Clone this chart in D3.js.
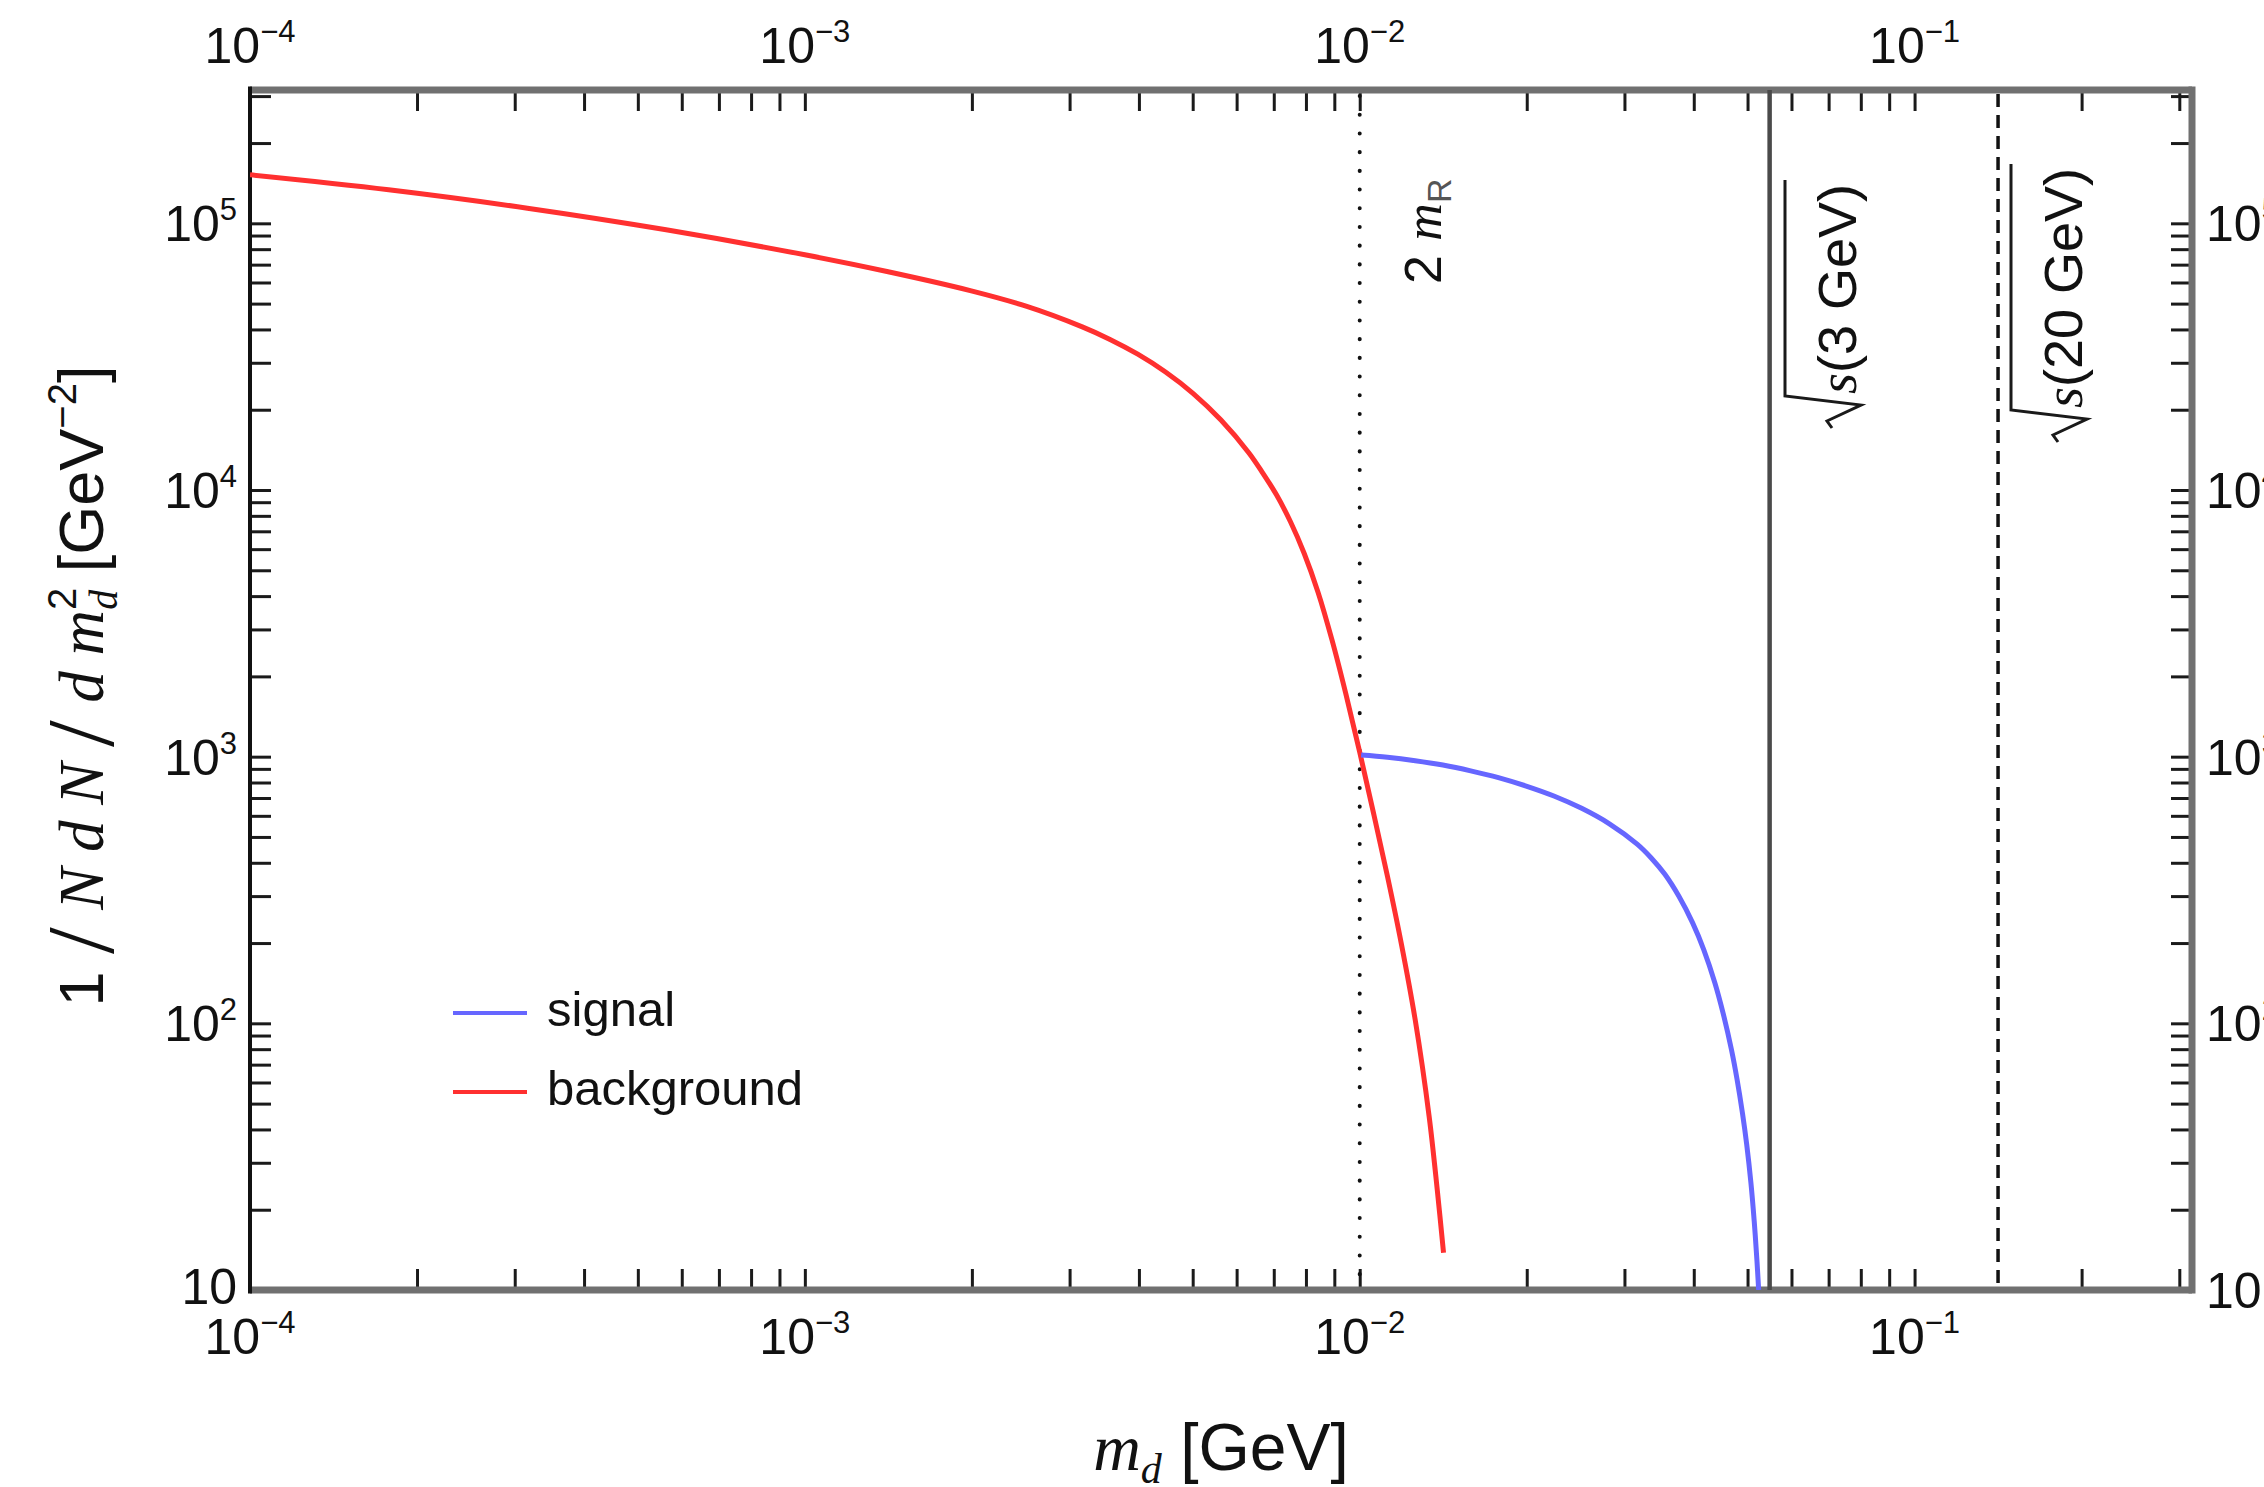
<!DOCTYPE html>
<html>
<head>
<meta charset="utf-8">
<script src="https://cdn.jsdelivr.net/npm/d3@7"></script>
<style>
  html, body { margin: 0; padding: 0; background: #ffffff; }
  svg { display: block; }
  text { font-family: "Liberation Sans", Arial, Helvetica, sans-serif; fill: #111; }
  .it { font-family: "Liberation Serif", "Times New Roman", serif; font-style: italic; }
  .sl { font-family: "Liberation Serif", "Times New Roman", serif; }
</style>
</head>
<body>
<svg id="chart" width="2264" height="1487"></svg>
<script>
// Background spectrum: 1/N dN/dm_d^2 against dark-photon mass m_d [GeV]
const bgMass = [1e-4, 1.778e-4, 3.162e-4, 5.623e-4, 1e-3, 1.413e-3, 1.995e-3, 2.512e-3, 3.162e-3,
                3.548e-3, 3.981e-3, 4.467e-3, 5.012e-3, 5.623e-3, 6.310e-3, 6.683e-3, 7.079e-3,
                7.499e-3, 7.943e-3, 8.414e-3, 8.913e-3, 9.441e-3, 0.01, 0.01059, 0.01122,
                0.01189, 0.01259, 0.01334, 0.01380, 0.01416];
const bgDensity = [152000, 133600, 114000, 94600, 76200, 65800, 55800, 48800, 40900,
                   36700, 32300, 27700, 23000, 18300, 13800, 11600, 9590,
                   7620, 5780, 4130, 2740, 1720, 1040, 614, 356,
                   198, 103, 44.7, 23.6, 13.8];

// Signal spectrum, opening at the 2 m_R threshold
const sigMass = [0.010058, 0.011220, 0.012589, 0.014125, 0.015849, 0.017783, 0.019953, 0.022387,
                 0.025119, 0.028184, 0.031623, 0.033497, 0.035481, 0.037584, 0.039811, 0.041687,
                 0.043652, 0.045186, 0.046774, 0.047863, 0.048978, 0.049831, 0.050699, 0.051404,
                 0.052000, 0.052240, 0.052360];
const sigDensity = [1014, 995, 966, 930, 885, 835, 776, 712,
                    640, 560, 470, 418, 362, 300, 238, 189,
                    142, 109, 79.6, 61.8, 45.8, 35.1, 25.3, 18.1,
                    12.8, 10.9, 10];

// Reference masses drawn as vertical lines
const thresholdMass = 0.01;     // 2 m_R
const edgeMass3GeV  = 0.0548;   // sqrt(s) = 3 GeV
const edgeMass20GeV = 0.1414;   // sqrt(s) = 20 GeV

// Decade exponents used for the tick labels
const xDecades = [-4, -3, -2, -1];
const yDecades = [1, 2, 3, 4, 5];

const legendLabels = ["signal", "background"];
const seriesColors = { signal: "#6666ff", background: "#ff3030" };

// ---------------------------------------------------------------
const svg = d3.select("#chart");
const plotLeft = 250, plotRight = 2192, plotTop = 90, plotBottom = 1290;

const x = d3.scaleLog().domain([1e-4, Math.pow(10, -0.5)]).range([plotLeft, plotRight]);
const y = d3.scaleLog().domain([10, Math.pow(10, 5.5)]).range([plotBottom, plotTop]);

// all 1..9 x 10^k tick positions inside a log domain
function logTicks(scale) {
  const [a, b] = scale.domain();
  const out = [];
  for (let e = Math.floor(Math.log10(a)); e <= Math.ceil(Math.log10(b)); e++) {
    for (let k = 1; k <= 9; k++) {
      const v = k * Math.pow(10, e);
      if (v >= a * 0.9999 && v <= b * 1.0001) out.push(v);
    }
  }
  return out;
}
const xTickVals = logTicks(x);
const yTickVals = logTicks(y);
const tickLen = 21;

function styleAxis(g) {
  g.select(".domain").remove();
  g.selectAll(".tick line").attr("stroke", "#1a1a1a").attr("stroke-width", 3);
}

svg.append("g").attr("transform", `translate(0,${plotBottom})`)
  .call(d3.axisBottom(x).tickValues(xTickVals).tickSize(-tickLen).tickFormat(""))
  .call(styleAxis);
svg.append("g").attr("transform", `translate(0,${plotTop})`)
  .call(d3.axisTop(x).tickValues(xTickVals).tickSize(-tickLen).tickFormat(""))
  .call(styleAxis);
svg.append("g").attr("transform", `translate(${plotLeft},0)`)
  .call(d3.axisLeft(y).tickValues(yTickVals).tickSize(-tickLen).tickFormat(""))
  .call(styleAxis);
svg.append("g").attr("transform", `translate(${plotRight},0)`)
  .call(d3.axisRight(y).tickValues(yTickVals).tickSize(-tickLen).tickFormat(""))
  .call(styleAxis);

// frame
const frame = svg.append("g");
frame.append("line").attr("x1", plotLeft).attr("x2", plotRight).attr("y1", plotTop).attr("y2", plotTop)
  .attr("stroke", "#707070").attr("stroke-width", 7);
frame.append("line").attr("x1", plotLeft).attr("x2", plotRight).attr("y1", plotBottom).attr("y2", plotBottom)
  .attr("stroke", "#707070").attr("stroke-width", 7);
frame.append("line").attr("x1", plotRight).attr("x2", plotRight).attr("y1", plotTop - 3.5).attr("y2", plotBottom + 3.5)
  .attr("stroke", "#707070").attr("stroke-width", 7);
frame.append("line").attr("x1", plotLeft).attr("x2", plotLeft).attr("y1", plotTop - 3.5).attr("y2", plotBottom + 3.5)
  .attr("stroke", "#111").attr("stroke-width", 4);

// power-of-ten label with a superscript exponent
const fs = 50, supFs = 31;
function powerLabel(sel, e) {
  sel.append("tspan").text("10");
  if (e !== 1) {
    sel.append("tspan").attr("font-size", supFs).attr("dy", -21).text(String(e).replace("-", "\u2212"));
  }
}

xDecades.forEach(e => {
  const v = Math.pow(10, e);
  svg.append("text").attr("x", x(v)).attr("y", 63).attr("text-anchor", "middle")
    .attr("font-size", fs).call(powerLabel, e);
  svg.append("text").attr("x", x(v)).attr("y", 1354).attr("text-anchor", "middle")
    .attr("font-size", fs).call(powerLabel, e);
});
yDecades.forEach(e => {
  const v = Math.pow(10, e);
  svg.append("text").attr("x", 237).attr("y", y(v) + (e === 1 ? 14 : 18)).attr("text-anchor", "end")
    .attr("font-size", fs).call(powerLabel, e);
  svg.append("text").attr("x", 2206).attr("y", y(v) + 18).attr("text-anchor", "start")
    .attr("font-size", fs).call(powerLabel, e);
});

// vertical reference lines
const vlines = svg.append("g");
vlines.append("line").attr("x1", x(thresholdMass)).attr("x2", x(thresholdMass))
  .attr("y1", plotTop + 6).attr("y2", plotBottom - 4)
  .attr("stroke", "#111").attr("stroke-width", 4)
  .attr("stroke-linecap", "round").attr("stroke-dasharray", "0.1 18.6");
vlines.append("line").attr("x1", x(edgeMass3GeV)).attr("x2", x(edgeMass3GeV))
  .attr("y1", plotTop).attr("y2", plotBottom)
  .attr("stroke", "#4a4a4a").attr("stroke-width", 4.5);
vlines.append("line").attr("x1", x(edgeMass20GeV)).attr("x2", x(edgeMass20GeV))
  .attr("y1", plotTop + 4).attr("y2", plotBottom)
  .attr("stroke", "#111").attr("stroke-width", 3.5).attr("stroke-dasharray", "13 8");

// spectra
svg.append("defs").append("clipPath").attr("id", "plotClip")
  .append("rect").attr("x", plotLeft).attr("y", plotTop)
  .attr("width", plotRight - plotLeft).attr("height", plotBottom - plotTop);

const line = d3.line().x(d => x(d[0])).y(d => y(d[1])).curve(d3.curveCatmullRom.alpha(0.5));
const curves = svg.append("g").attr("clip-path", "url(#plotClip)");
curves.append("path").datum(d3.zip(bgMass, bgDensity))
  .attr("d", line).attr("fill", "none")
  .attr("stroke", seriesColors.background).attr("stroke-width", 5).attr("stroke-linejoin", "round");
curves.append("path").datum(d3.zip(sigMass, sigDensity))
  .attr("d", line).attr("fill", "none")
  .attr("stroke", seriesColors.signal).attr("stroke-width", 5).attr("stroke-linejoin", "round");

// legend
const legend = svg.append("g");
legendLabels.forEach((name, i) => {
  const ly = 1013 + i * 79;
  legend.append("line").attr("x1", 453).attr("x2", 527).attr("y1", ly).attr("y2", ly)
    .attr("stroke", seriesColors[name]).attr("stroke-width", 4);
  legend.append("text").attr("x", 547).attr("y", ly + 13).attr("font-size", 49).text(name);
});

// threshold annotation "2 m_R"
const annFs = 54;
const thr = svg.append("g").attr("transform", "translate(1441,284) rotate(-90)");
const thrText = thr.append("text").attr("font-size", 52);
thrText.append("tspan").text("2 ");
thrText.append("tspan").attr("class", "it").text("m");
thrText.append("tspan").attr("font-size", 34).attr("dy", 10).attr("fill", "#555").text("R");

// sqrt(s) annotations with a drawn radical sign
function radicalLabel(bx, by, label) {
  const g = svg.append("g").attr("transform", `translate(${bx},${by}) rotate(-90)`);
  const t = g.append("text").attr("x", 30).attr("y", 0).attr("font-size", annFs);
  t.append("tspan").attr("class", "it").text("s");
  t.append("tspan").text(label);
  const len = t.node().getComputedTextLength();
  const barY = -71;
  g.append("path")
    .attr("d", `M-4,-24 L3,-29 L19,5 L28,${barY} H${30 + len + 4}`)
    .attr("fill", "none").attr("stroke", "#1a1a1a").attr("stroke-width", 3)
    .attr("stroke-linejoin", "miter");
}
radicalLabel(1856, 424, "(3 GeV)");
radicalLabel(2082, 438, "(20 GeV)");

// axis titles
const xTitle = svg.append("text").attr("x", 1221).attr("y", 1470)
  .attr("text-anchor", "middle").attr("font-size", 66);
xTitle.append("tspan").attr("class", "it").text("m");
xTitle.append("tspan").attr("class", "it").attr("font-size", 42).attr("dy", 13).text("d");
xTitle.append("tspan").attr("dy", -13).text(" [GeV]");

const yTitle = svg.append("g").attr("transform", "translate(103,686) rotate(-90)")
  .append("text").attr("text-anchor", "middle").attr("font-size", 63);
yTitle.append("tspan").text("1 ");
yTitle.append("tspan").attr("class", "sl").attr("font-size", 96).attr("dy", 10).text("/");
yTitle.append("tspan").attr("dy", -10).text(" ");
yTitle.append("tspan").attr("class", "it").text("N d N ");
yTitle.append("tspan").attr("class", "sl").attr("font-size", 96).attr("dy", 10).text("/");
yTitle.append("tspan").attr("dy", -10).text(" ");
yTitle.append("tspan").attr("class", "it").text("d m");
yTitle.append("tspan").attr("font-size", 40).attr("dy", -27).text("2");
yTitle.append("tspan").attr("class", "it").attr("font-size", 40).attr("dx", -22).attr("dy", 41).text("d");
yTitle.append("tspan").attr("dy", -14).text(" [GeV");
yTitle.append("tspan").attr("font-size", 40).attr("dy", -27).text("\u22122");
yTitle.append("tspan").attr("dy", 27).text("]");
</script>
</body>
</html>
